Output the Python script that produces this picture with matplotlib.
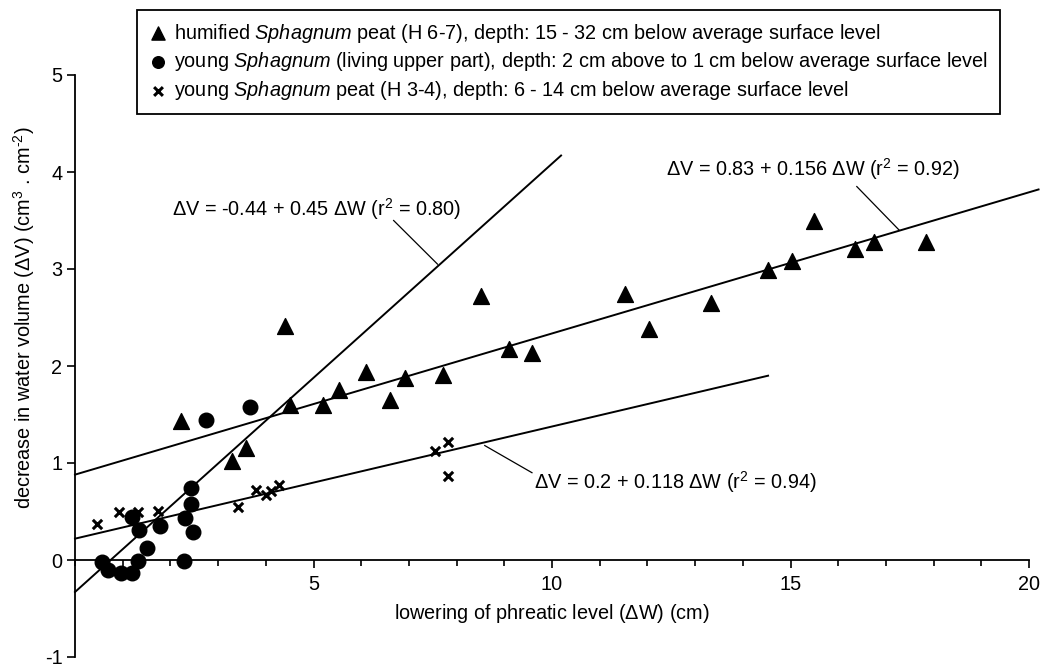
import matplotlib
matplotlib.use("Agg")
import matplotlib.pyplot as plt
from matplotlib.ticker import MultipleLocator

plt.rcParams['font.family'] = ['Liberation Sans', 'DejaVu Sans']
plt.rcParams['mathtext.fontset'] = 'custom'
plt.rcParams['mathtext.rm'] = 'Liberation Sans'
plt.rcParams['mathtext.it'] = 'Liberation Sans:italic'
plt.rcParams['mathtext.bf'] = 'Liberation Sans:bold'
plt.rcParams['axes.unicode_minus'] = False

# humified Sphagnum peat (triangles)
tri_x = [2.23, 3.30, 3.59, 4.40, 4.50, 5.19, 5.53, 6.11, 6.60, 6.92, 7.71, 8.52, 9.09, 9.59,
         11.52, 12.03, 13.33, 14.53, 15.04, 15.49, 16.35, 16.75, 17.84]
tri_y = [1.43, 1.02, 1.15, 2.41, 1.60, 1.60, 1.75, 1.94, 1.65, 1.88, 1.91, 2.72, 2.18, 2.13,
         2.74, 2.38, 2.65, 2.99, 3.08, 3.50, 3.21, 3.28, 3.28]

# young Sphagnum living upper part (circles)
cir_x = [0.56, 0.70, 0.97, 1.20, 1.32, 1.51, 1.20, 1.34, 1.79, 2.29, 2.30, 2.43, 2.43, 2.47, 2.74, 3.66]
cir_y = [-0.02, -0.10, -0.13, -0.13, -0.01, 0.12, 0.44, 0.31, 0.35, -0.01, 0.43, 0.58, 0.74, 0.29, 1.44, 1.58]

# young Sphagnum peat (crosses)
crs_x = [0.46, 0.92, 1.32, 1.73, 3.41, 3.80, 4.01, 4.10, 4.27, 7.55, 7.81, 7.81]
crs_y = [0.37, 0.50, 0.50, 0.51, 0.55, 0.72, 0.67, 0.71, 0.77, 1.12, 1.22, 0.87]

# regression line end points (as drawn)
line_upper_x = [0.0, 20.2]
line_upper_y = [0.88, 3.82]
line_steep_x = [0.0, 10.19]
line_steep_y = [-0.33, 4.17]
line_lower_x = [0.0, 14.53]
line_lower_y = [0.22, 1.90]

legend_labels = [
    r'humified $\mathit{Sphagnum}$ peat (H 6-7), depth: 15 - 32 cm below average surface level',
    r'young $\mathit{Sphagnum}$ (living upper part), depth: 2 cm above to 1 cm below average surface level',
    r'young $\mathit{Sphagnum}$ peat (H 3-4), depth: 6 - 14 cm below average surface level',
]
eq_steep = r'$\Delta$V = -0.44 + 0.45 $\Delta$W (r$^2$ = 0.80)'
eq_upper = r'$\Delta$V = 0.83 + 0.156 $\Delta$W (r$^2$ = 0.92)'
eq_lower = r'$\Delta$V = 0.2 + 0.118 $\Delta$W (r$^2$ = 0.94)'

fig = plt.figure(figsize=(10.43, 6.70), dpi=100)
ax = fig.add_axes([75/1043, 13/670, (1029-75)/1043, (657-75)/670])
ax.set_xlim(0, 20)
ax.set_ylim(-1, 5)

lw = 1.4
ax.plot(line_upper_x, line_upper_y, color='black', lw=lw, clip_on=False)
ax.plot(line_steep_x, line_steep_y, color='black', lw=lw, clip_on=False)
ax.plot(line_lower_x, line_lower_y, color='black', lw=lw, clip_on=False)

h1 = ax.scatter(tri_x, tri_y, marker='^', s=130, color='black', zorder=3, clip_on=False)
h2 = ax.scatter(cir_x, cir_y, marker='o', s=110, color='black', zorder=3, clip_on=False)
h3 = ax.scatter(crs_x, crs_y, marker='x', s=45, color='black', linewidths=2.2, zorder=3, clip_on=False)

# leader lines and equations
ax.plot([6.68, 7.60], [3.50, 3.05], color='black', lw=0.9)
ax.plot([16.39, 17.28], [3.85, 3.40], color='black', lw=0.9)
ax.plot([8.59, 9.58], [1.18, 0.90], color='black', lw=0.9)
fs = 14.3
ax.text(2.04, 3.62, eq_steep, fontsize=fs, ha='left', va='center')
ax.text(12.39, 4.03, eq_upper, fontsize=fs, ha='left', va='center')
ax.text(9.62, 0.80, eq_lower, fontsize=fs, ha='left', va='center')

# spines
for s in ['top', 'right']:
    ax.spines[s].set_visible(False)
ax.spines['bottom'].set_position(('data', 0))
ax.spines['left'].set_position(('data', 0))
ax.spines['bottom'].set_linewidth(1.3)
ax.spines['left'].set_linewidth(1.3)

ax.xaxis.set_minor_locator(MultipleLocator(1))
ax.yaxis.set_major_locator(MultipleLocator(1))
ax.set_xticks([5, 10, 15, 20])
ax.tick_params(axis='x', which='major', direction='out', length=6, width=1.2, labelsize=fs, pad=5)
ax.tick_params(axis='x', which='minor', direction='out', length=4.5, width=1.2)
ax.tick_params(axis='y', which='major', direction='out', length=6, width=1.2, labelsize=fs, pad=3)

ax.text(10, -0.55, r'lowering of phreatic level ($\Delta$W) (cm)', fontsize=fs, ha='center', va='center')
ax.text(-1.07, 2.5, r'decrease in water volume ($\Delta$V) (cm$^3$ . cm$^{\text{-}2}$)', fontsize=fs,
        ha='center', va='center', rotation=90)

leg = fig.legend([h1, h2, h3], legend_labels, loc='upper left',
                 bbox_to_anchor=(137/1043, 1 - 10/670), borderaxespad=0, fontsize=fs, frameon=True,
                 fancybox=False, edgecolor='black', framealpha=1, handletextpad=0.3,
                 handlelength=1.0, borderpad=0.58, labelspacing=0.3, scatterpoints=1)
leg.legend_handles[0].set_sizes([90])
leg.legend_handles[1].set_sizes([70])
leg.legend_handles[2].set_sizes([40])
leg.get_frame().set_linewidth(1.3)

fig.savefig('out.png', dpi=100)
